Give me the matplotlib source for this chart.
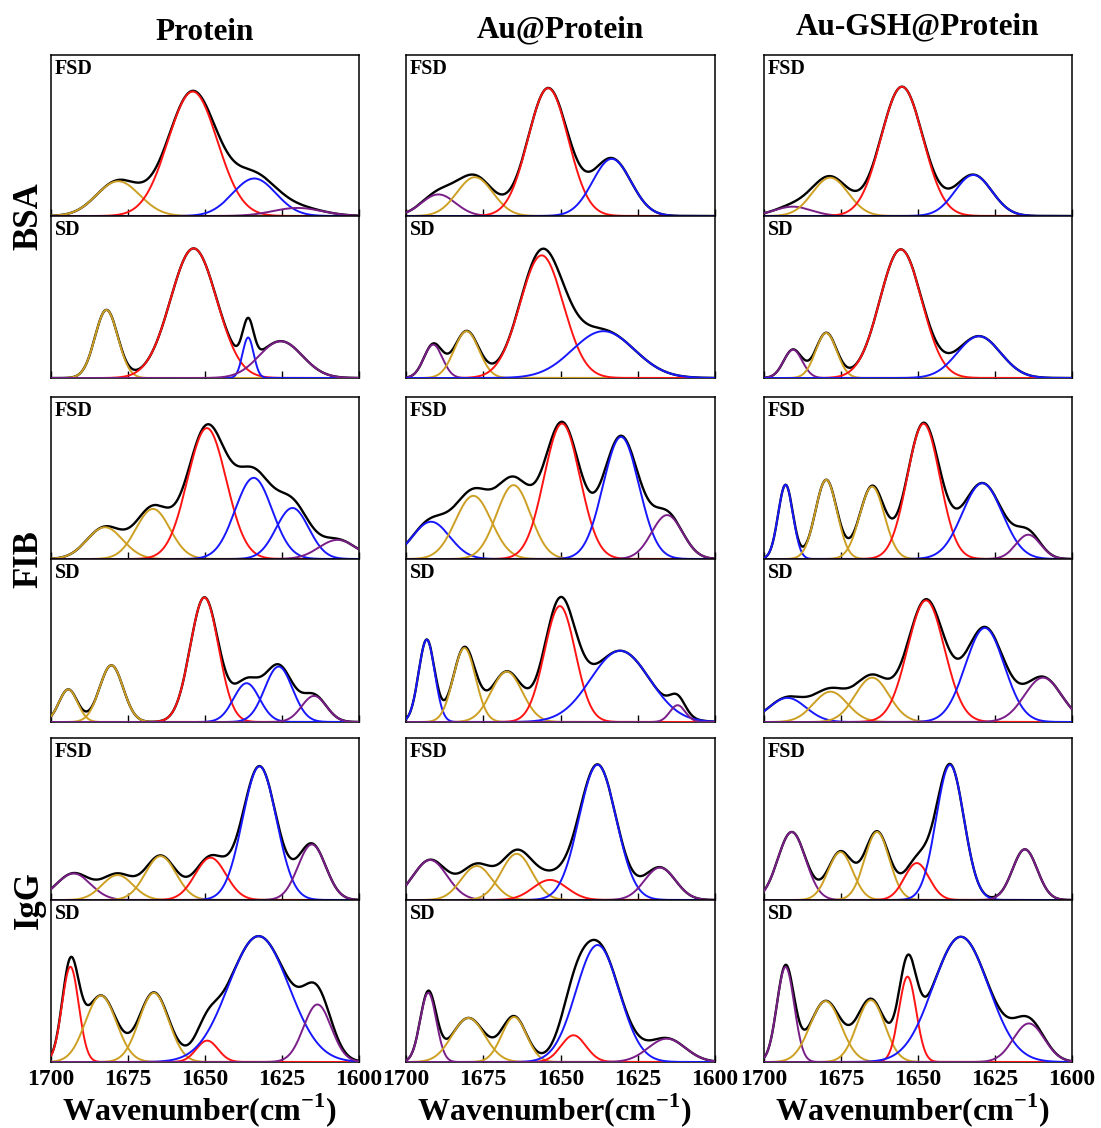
import numpy as np
import matplotlib
matplotlib.use("Agg")
import matplotlib.pyplot as plt

# ----- band components: (centre cm-1, height, sigma cm-1, band) -----
BSA_PROT_FSD = [(1678.2, 0.216, 7.0, "turn"), (1654.0, 0.773, 8.0, "helix"),
                (1634.0, 0.233, 7.0, "sheet"), (1620.0, 0.050, 8.0, "side")]
BSA_PROT_SD = [(1682.0, 0.420, 3.7, "turn"), (1653.7, 0.800, 7.5, "helix"),
               (1636.0, 0.250, 1.8, "sheet"), (1625.4, 0.227, 7.0, "side")]
BSA_AU_FSD = [(1689.5, 0.134, 5.5, "side"), (1677.7, 0.241, 5.8, "turn"),
              (1654.0, 0.794, 6.5, "helix"), (1633.4, 0.355, 6.2, "sheet")]
BSA_AU_SD = [(1691.2, 0.206, 3.0, "side"), (1680.4, 0.289, 4.0, "turn"),
             (1656.1, 0.757, 7.0, "helix"), (1636.1, 0.289, 10.0, "sheet")]
BSA_GSH_FSD = [(1690.6, 0.058, 6.0, "side"), (1678.5, 0.238, 5.8, "turn"),
               (1655.2, 0.803, 6.8, "helix"), (1632.0, 0.255, 6.0, "sheet")]
BSA_GSH_SD = [(1690.6, 0.175, 3.0, "side"), (1679.8, 0.278, 3.4, "turn"),
              (1655.6, 0.794, 6.8, "helix"), (1630.2, 0.258, 7.0, "sheet")]

FIB_PROT_FSD = [(1682.5, 0.196, 5.8, "turn"), (1666.9, 0.309, 5.5, "turn"),
                (1649.4, 0.808, 6.3, "helix"), (1634.2, 0.501, 6.0, "sheet"),
                (1621.6, 0.315, 5.3, "sheet"), (1607.0, 0.118, 6.0, "side")]
FIB_PROT_SD = [(1694.4, 0.200, 3.0, "turn"), (1680.4, 0.348, 3.8, "turn"),
               (1650.2, 0.764, 4.6, "helix"), (1636.5, 0.238, 4.2, "sheet"),
               (1626.1, 0.340, 4.5, "sheet"), (1614.6, 0.160, 4.0, "side")]
FIB_AU_FSD = [(1691.9, 0.230, 6.0, "sheet"), (1678.2, 0.390, 5.8, "turn"),
              (1665.2, 0.456, 5.5, "turn"), (1649.5, 0.836, 5.8, "helix"),
              (1630.4, 0.754, 5.8, "sheet"), (1615.5, 0.271, 5.0, "side")]
FIB_AU_SD = [(1693.3, 0.505, 2.6, "sheet"), (1681.1, 0.454, 3.6, "turn"),
             (1667.4, 0.309, 5.0, "turn"), (1650.2, 0.711, 5.0, "helix"),
             (1630.7, 0.437, 9.5, "sheet"), (1612.1, 0.103, 2.5, "side")]
FIB_GSH_FSD = [(1693.0, 0.458, 2.4, "sheet"), (1679.8, 0.489, 3.5, "turn"),
               (1664.9, 0.447, 4.0, "turn"), (1648.2, 0.835, 5.3, "helix"),
               (1629.1, 0.468, 6.5, "sheet"), (1614.2, 0.150, 4.0, "side")]
FIB_GSH_SD = [(1692.4, 0.148, 6.0, "sheet"), (1678.4, 0.186, 5.5, "turn"),
              (1664.9, 0.272, 5.5, "turn"), (1647.4, 0.746, 6.0, "helix"),
              (1628.3, 0.577, 6.3, "sheet"), (1609.4, 0.272, 6.0, "side")]

IGG_PROT_FSD = [(1692.7, 0.164, 5.5, "side"), (1678.4, 0.154, 5.0, "turn"),
                (1664.4, 0.271, 5.0, "turn"), (1648.2, 0.261, 5.0, "helix"),
                (1632.3, 0.825, 5.5, "sheet"), (1615.3, 0.343, 4.5, "side")]
IGG_PROT_SD = [(1693.7, 0.588, 2.7, "helix"), (1683.8, 0.410, 5.0, "turn"),
               (1666.6, 0.427, 4.8, "turn"), (1649.3, 0.132, 3.5, "helix"),
               (1632.6, 0.777, 9.8, "sheet"), (1613.5, 0.355, 4.5, "side")]
IGG_AU_FSD = [(1692.2, 0.247, 5.5, "side"), (1677.1, 0.210, 5.0, "turn"),
              (1664.2, 0.285, 5.0, "turn"), (1653.4, 0.124, 5.5, "helix"),
              (1638.0, 0.835, 6.0, "sheet"), (1617.8, 0.200, 5.0, "side")]
IGG_AU_SD = [(1692.8, 0.427, 2.6, "side"), (1679.8, 0.272, 5.3, "turn"),
             (1665.0, 0.278, 4.0, "turn"), (1645.8, 0.165, 4.0, "helix"),
             (1638.0, 0.722, 7.0, "sheet"), (1615.6, 0.144, 6.0, "side")]
IGG_GSH_FSD = [(1691.0, 0.420, 4.5, "side"), (1675.2, 0.296, 4.0, "turn"),
               (1663.3, 0.420, 4.0, "turn"), (1650.4, 0.228, 4.0, "helix"),
               (1639.6, 0.834, 4.5, "sheet"), (1615.3, 0.313, 4.0, "side")]
IGG_GSH_SD = [(1693.0, 0.587, 2.8, "side"), (1680.0, 0.376, 5.0, "turn"),
              (1665.3, 0.382, 4.5, "turn"), (1653.4, 0.527, 2.8, "helix"),
              (1636.1, 0.773, 9.0, "sheet"), (1614.0, 0.238, 5.0, "side")]

SAMPLES = ["Protein", "Au@Protein", "Au-GSH@Protein"]
PROTEINS = ["BSA", "FIB", "IgG"]
XTICKS = [1700, 1675, 1650, 1625, 1600]

GRID = {
    "BSA": [(BSA_PROT_FSD, BSA_PROT_SD), (BSA_AU_FSD, BSA_AU_SD), (BSA_GSH_FSD, BSA_GSH_SD)],
    "FIB": [(FIB_PROT_FSD, FIB_PROT_SD), (FIB_AU_FSD, FIB_AU_SD), (FIB_GSH_FSD, FIB_GSH_SD)],
    "IgG": [(IGG_PROT_FSD, IGG_PROT_SD), (IGG_AU_FSD, IGG_AU_SD), (IGG_GSH_FSD, IGG_GSH_SD)],
}

BAND_COLORS = {"turn": "#CDA024", "helix": "#FF1414", "sheet": "#1818FF", "side": "#7A1E88"}

plt.rcParams["font.family"] = ["Liberation Serif", "DejaVu Serif"]
plt.rcParams["font.weight"] = "bold"
plt.rcParams["mathtext.fontset"] = "custom"
plt.rcParams["mathtext.rm"] = "Liberation Serif:bold"
plt.rcParams["mathtext.bf"] = "Liberation Serif:bold"

W, H = 1101, 1128
fig = plt.figure(figsize=(W / 100, H / 100), dpi=100)

col_left = [51, 406, 764]
col_w = [308, 309, 308]
row_edges = [(55, 216, 378), (397, 559, 722), (738, 900, 1062)]

wn = np.linspace(1600, 1700, 1001)


def add_ax(x0, y0, w, h):
    return fig.add_axes([x0 / W, 1 - (y0 + h) / H, w / W, h / H])


def draw_panel(ax, comps, tag, show_labels):
    total = np.zeros_like(wn)
    for c, a, s, band in comps:
        total += a * np.exp(-0.5 * ((wn - c) / s) ** 2)
    ax.plot(wn, total, color="black", lw=1.7, zorder=2)
    for c, a, s, band in comps:
        ax.plot(wn, a * np.exp(-0.5 * ((wn - c) / s) ** 2),
                color=BAND_COLORS[band], lw=1.4, zorder=3)
    ax.set_xlim(1700, 1600)
    ax.set_ylim(0, 1)
    ax.set_yticks([])
    ax.set_xticks(XTICKS)
    ax.tick_params(axis="x", direction="in", length=5, width=1,
                   labelbottom=show_labels, labelsize=17, pad=5)
    if show_labels:
        for lab in ax.get_xticklabels():
            lab.set_fontweight("bold")
    for sp in ax.spines.values():
        sp.set_linewidth(1.1)
    ax.text(0.012, 0.975, tag, transform=ax.transAxes, ha="left", va="top",
            fontsize=14.5, fontweight="bold")


for r, prot in enumerate(PROTEINS):
    top, mid, bot = row_edges[r]
    for c in range(3):
        fsd, sd = GRID[prot][c]
        ax1 = add_ax(col_left[c], top, col_w[c], mid - top)
        draw_panel(ax1, fsd, "FSD", False)
        ax2 = add_ax(col_left[c], mid, col_w[c], bot - mid)
        draw_panel(ax2, sd, "SD", r == len(PROTEINS) - 1)
    fig.text(29 / W, 1 - (top + bot) / 2 / H, prot, rotation=90, ha="center",
             va="center", fontsize=25, fontweight="bold")

title_y = [32, 30, 27]
for c, name in enumerate(SAMPLES):
    cx = (col_left[c] + col_w[c] / 2) / W
    fig.text(cx, 1 - title_y[c] / H, name, ha="center", va="center",
             fontsize=22.5, fontweight="bold")
    fig.text(cx - 6 / W, 1 - 1110 / H, r"Wavenumber(cm$^{-1}$)", ha="center",
             va="center", fontsize=23, fontweight="bold")

fig.savefig("out.png", dpi=100)
